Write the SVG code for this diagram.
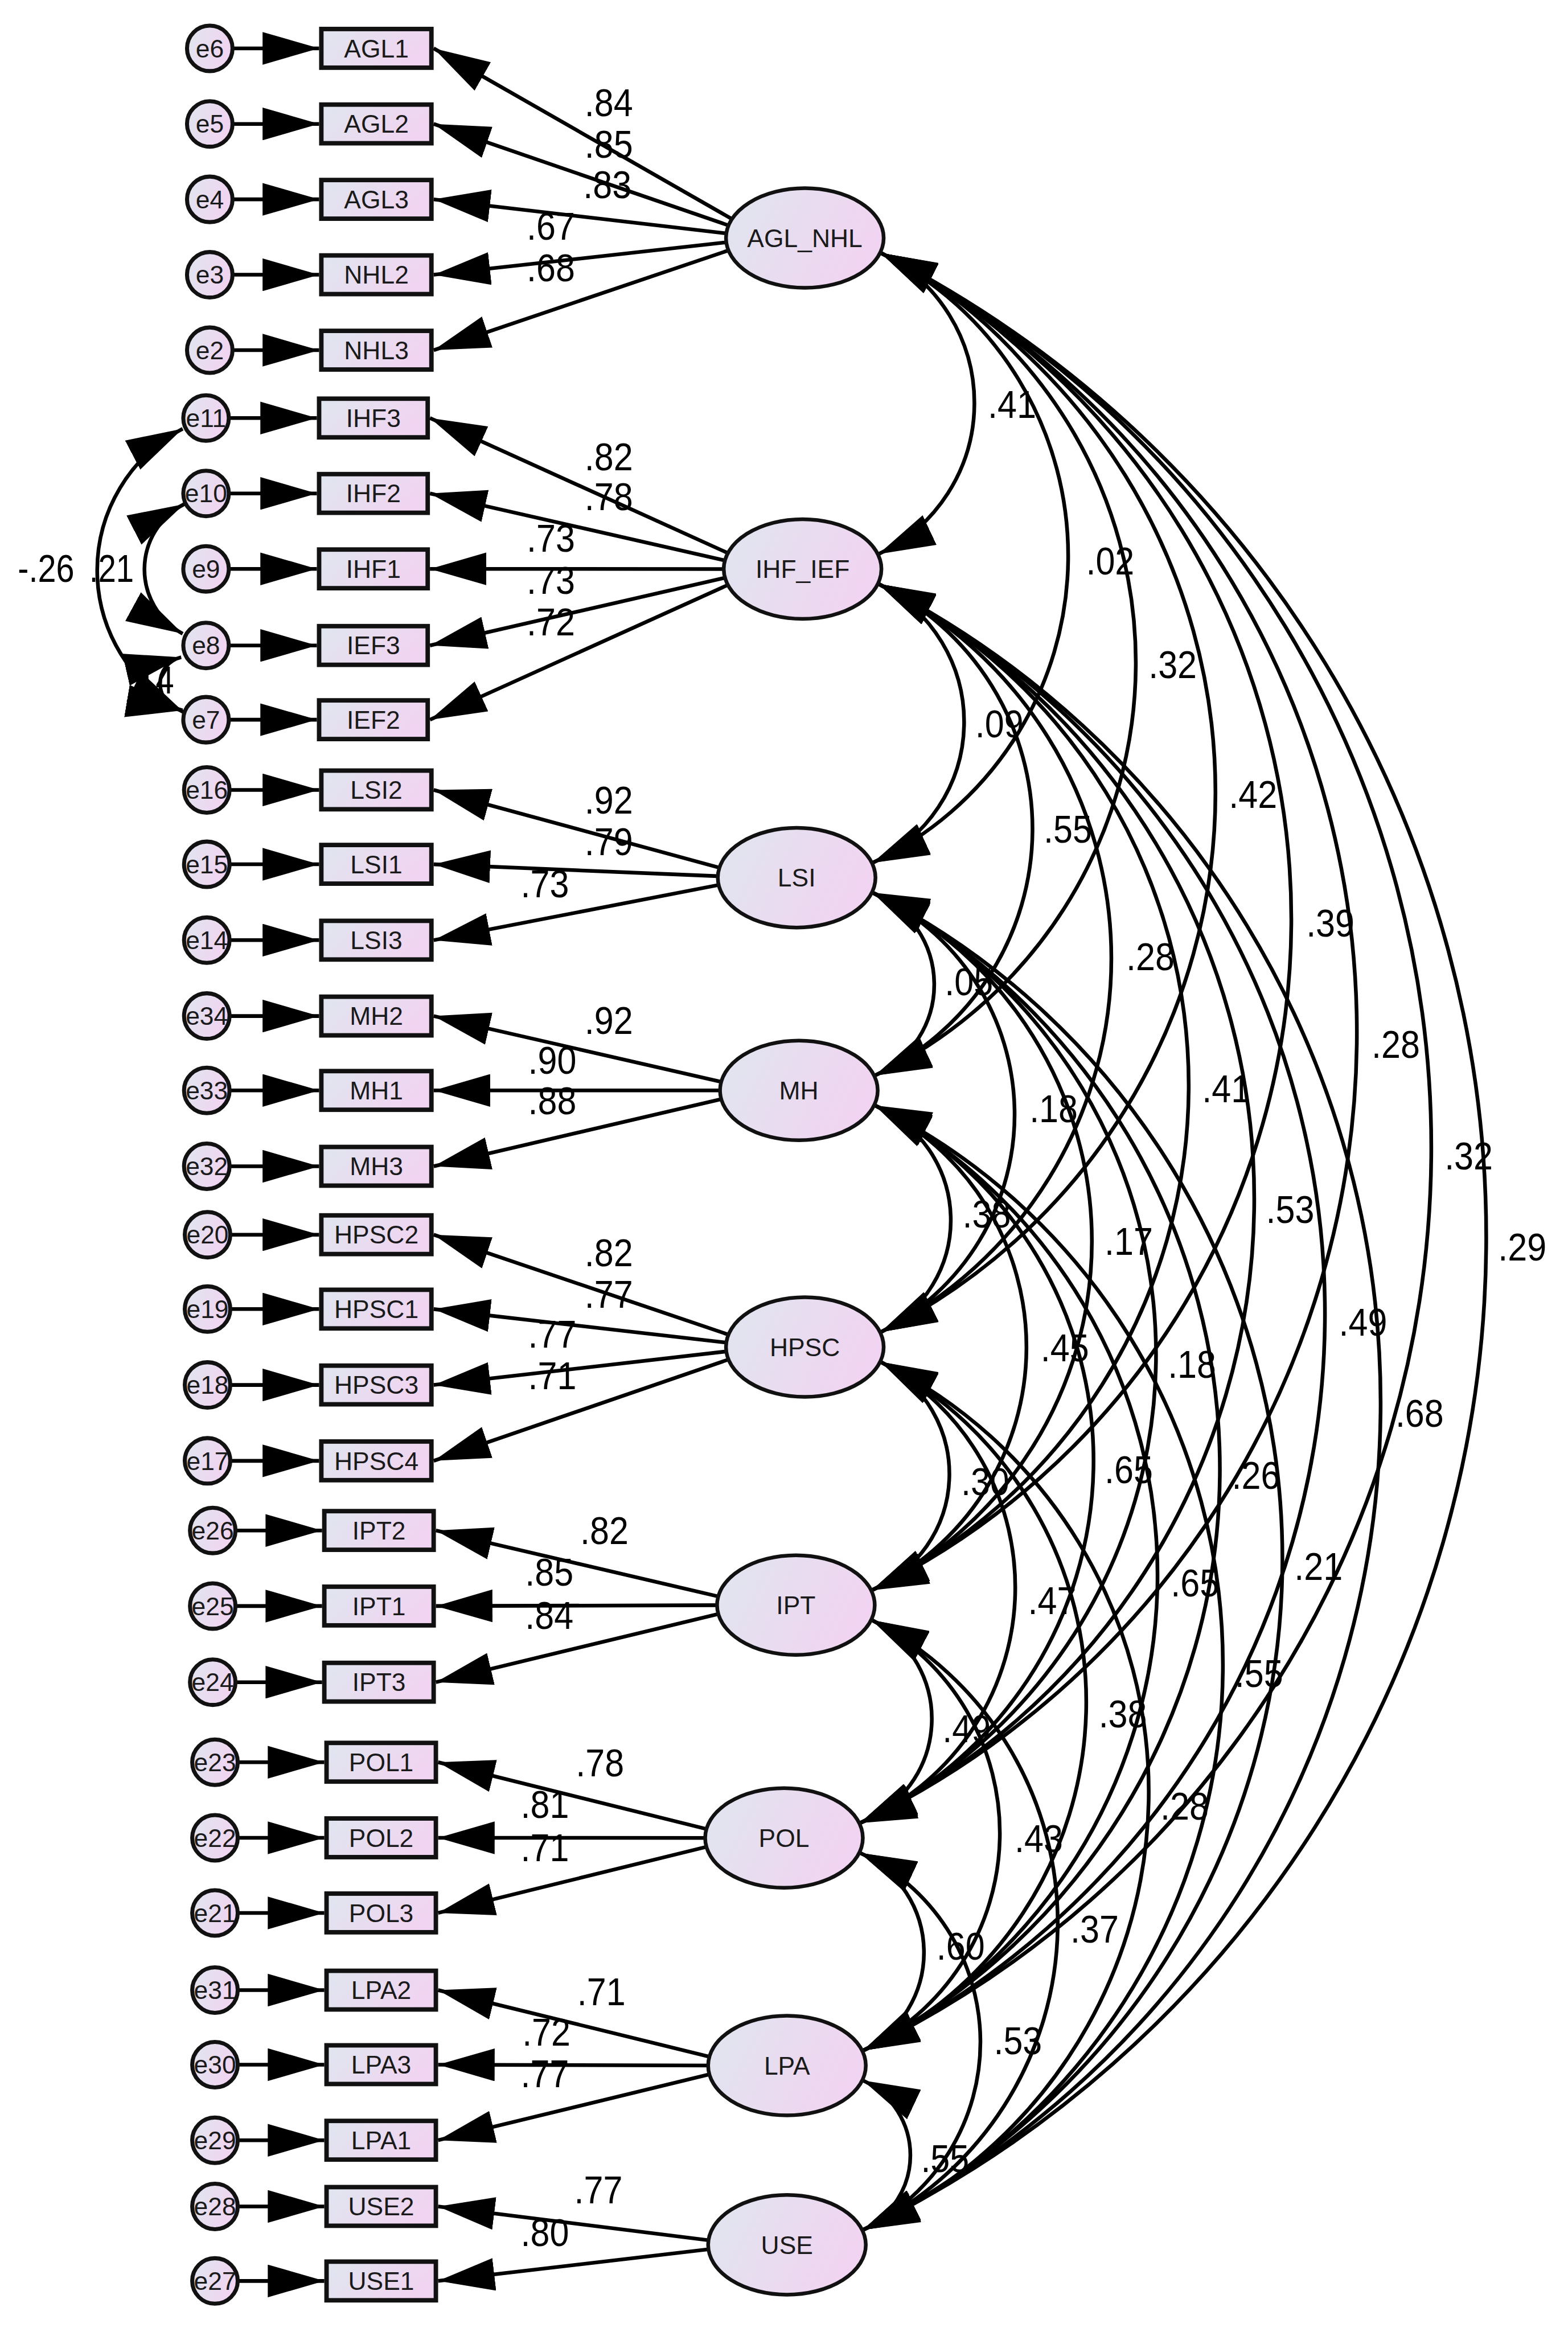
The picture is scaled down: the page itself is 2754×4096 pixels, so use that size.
<svg xmlns="http://www.w3.org/2000/svg" width="2754" height="4096" viewBox="0 0 2754 4096">
<defs>
<linearGradient id="g" x1="0" y1="0" x2="1" y2="0.3"><stop offset="0" stop-color="#dfe6ef"/><stop offset="1" stop-color="#f1d4f1"/></linearGradient>
<marker id="ah" markerUnits="userSpaceOnUse" viewBox="0 0 38 22" markerWidth="38" markerHeight="22" refX="38" refY="11" orient="auto-start-reverse"><path d="M0,0 L38,11 L0,22 Z" fill="#000"/></marker>
<style>
.ln{stroke:#000;stroke-width:2.5;fill:none}
.ar{marker-end:url(#ah)}
.cv{marker-start:url(#ah);marker-end:url(#ah)}
.box{fill:url(#g);stroke:#111;stroke-width:3}
.lat{fill:url(#g);stroke:#111;stroke-width:2.5}
.err{fill:url(#g);stroke:#111;stroke-width:2.7}
.t{font-family:"Liberation Sans",Arial,sans-serif;font-size:17px;fill:#1a1a1a;text-anchor:middle}
.c{font-family:"Liberation Sans",Arial,sans-serif;font-size:26.5px;fill:#000}
</style>
</defs>
<rect width="2754" height="4096" fill="#fff"/>
<g transform="scale(2.6129)">
<text class="c" x="86" y="466" textLength="31" lengthAdjust="spacingAndGlyphs">.14</text>
<g id="connectors">
<line class="ln ar" x1="141" y1="32.5" x2="214.5" y2="32.5"/>
<line class="ln ar" x1="141" y1="83.3" x2="214.5" y2="83.3"/>
<line class="ln ar" x1="141" y1="134" x2="214.5" y2="134"/>
<line class="ln ar" x1="141" y1="184.7" x2="214.5" y2="184.7"/>
<line class="ln ar" x1="141" y1="235.4" x2="214.5" y2="235.4"/>
<line class="ln ar" x1="138.5" y1="281" x2="213" y2="281"/>
<line class="ln ar" x1="138.5" y1="331.7" x2="213" y2="331.7"/>
<line class="ln ar" x1="138.5" y1="382.4" x2="213" y2="382.4"/>
<line class="ln ar" x1="138.5" y1="433.9" x2="213" y2="433.9"/>
<line class="ln ar" x1="138.5" y1="483.8" x2="213" y2="483.8"/>
<line class="ln ar" x1="139" y1="531" x2="214.5" y2="531"/>
<line class="ln ar" x1="139" y1="581" x2="214.5" y2="581"/>
<line class="ln ar" x1="139" y1="632" x2="214.5" y2="632"/>
<line class="ln ar" x1="139" y1="683" x2="214.5" y2="683"/>
<line class="ln ar" x1="139" y1="733" x2="214.5" y2="733"/>
<line class="ln ar" x1="139" y1="784" x2="214.5" y2="784"/>
<line class="ln ar" x1="139.5" y1="830" x2="214.5" y2="830"/>
<line class="ln ar" x1="139.5" y1="880" x2="214.5" y2="880"/>
<line class="ln ar" x1="139.5" y1="931" x2="214.5" y2="931"/>
<line class="ln ar" x1="139.5" y1="982" x2="214.5" y2="982"/>
<line class="ln ar" x1="143" y1="1028.8" x2="216.5" y2="1028.8"/>
<line class="ln ar" x1="143" y1="1079.6" x2="216.5" y2="1079.6"/>
<line class="ln ar" x1="143" y1="1130.8" x2="216.5" y2="1130.8"/>
<line class="ln ar" x1="144.5" y1="1184.6" x2="218" y2="1184.6"/>
<line class="ln ar" x1="144.5" y1="1235.4" x2="218" y2="1235.4"/>
<line class="ln ar" x1="144.5" y1="1285.9" x2="218" y2="1285.9"/>
<line class="ln ar" x1="144.5" y1="1337.8" x2="218" y2="1337.8"/>
<line class="ln ar" x1="144.5" y1="1387.9" x2="218" y2="1387.9"/>
<line class="ln ar" x1="144.5" y1="1438.7" x2="218" y2="1438.7"/>
<line class="ln ar" x1="144.5" y1="1483.2" x2="218" y2="1483.2"/>
<line class="ln ar" x1="144.5" y1="1533.3" x2="218" y2="1533.3"/>
<line class="ln ar" x1="501" y1="152.35" x2="291.5" y2="32.5"/>
<line class="ln ar" x1="501" y1="155.4" x2="291.5" y2="83.3"/>
<line class="ln ar" x1="501" y1="158.4" x2="291.5" y2="134"/>
<line class="ln ar" x1="501" y1="161.5" x2="291.5" y2="184.7"/>
<line class="ln ar" x1="501" y1="164.5" x2="291.5" y2="235.4"/>
<line class="ln ar" x1="499.5" y1="376.4" x2="289" y2="281"/>
<line class="ln ar" x1="499.5" y1="379.5" x2="289" y2="331.7"/>
<line class="ln ar" x1="499.5" y1="382.5" x2="289" y2="382.4"/>
<line class="ln ar" x1="499.5" y1="385.6" x2="289" y2="433.9"/>
<line class="ln ar" x1="499.5" y1="388.6" x2="289" y2="483.8"/>
<line class="ln ar" x1="495.5" y1="586.5" x2="291.5" y2="531"/>
<line class="ln ar" x1="495.5" y1="589.5" x2="291.5" y2="581"/>
<line class="ln ar" x1="495.5" y1="592.5" x2="291.5" y2="632"/>
<line class="ln ar" x1="497" y1="730" x2="291.5" y2="683"/>
<line class="ln ar" x1="497" y1="733" x2="291.5" y2="733"/>
<line class="ln ar" x1="497" y1="736" x2="291.5" y2="784"/>
<line class="ln ar" x1="501" y1="901" x2="291.5" y2="830"/>
<line class="ln ar" x1="501" y1="904" x2="291.5" y2="880"/>
<line class="ln ar" x1="501" y1="907" x2="291.5" y2="931"/>
<line class="ln ar" x1="501" y1="910" x2="291.5" y2="982"/>
<line class="ln ar" x1="495" y1="1076" x2="293" y2="1028.8"/>
<line class="ln ar" x1="495" y1="1079" x2="293" y2="1079.6"/>
<line class="ln ar" x1="495" y1="1082" x2="293" y2="1130.8"/>
<line class="ln ar" x1="487" y1="1232.5" x2="294.5" y2="1184.6"/>
<line class="ln ar" x1="487" y1="1235.5" x2="294.5" y2="1235.4"/>
<line class="ln ar" x1="487" y1="1238.5" x2="294.5" y2="1285.9"/>
<line class="ln ar" x1="489" y1="1385.5" x2="294.5" y2="1337.8"/>
<line class="ln ar" x1="489" y1="1388.5" x2="294.5" y2="1387.9"/>
<line class="ln ar" x1="489" y1="1391.5" x2="294.5" y2="1438.7"/>
<line class="ln ar" x1="489" y1="1507.5" x2="294.5" y2="1483.2"/>
<line class="ln ar" x1="489" y1="1510.5" x2="294.5" y2="1533.3"/>
<path class="ln cv" d="M122.8,288.2 A107.5,107.5 0 0 0 123.8,479"/>
<path class="ln cv" d="M123.8,338.9 A49.3,49.3 0 0 0 122.8,426"/>
<path class="ln cv" d="M121.8,441.8 A18.2,18.2 0 0 0 122.8,477.5"/>
<path class="ln cv" d="M592,170 A112.3,112.3 0 0 1 590.5,372.5"/>
<path class="ln cv" d="M592,170 A227.6,227.6 0 0 1 586.5,580"/>
<path class="ln cv" d="M592,170 A307.1,307.1 0 0 1 588,723"/>
<path class="ln cv" d="M592,170 A404.9,404.9 0 0 1 592,895.5"/>
<path class="ln cv" d="M592,170 A501.6,501.6 0 0 1 586,1069"/>
<path class="ln cv" d="M592,170 A589.4,589.4 0 0 1 578,1225.5"/>
<path class="ln cv" d="M592,170 A673.5,673.5 0 0 1 580,1378.5"/>
<path class="ln cv" d="M592,170 A741.1,741.1 0 0 1 580,1499"/>
<path class="ln cv" d="M590.5,392.5 A103.6,103.6 0 0 1 586.5,580"/>
<path class="ln cv" d="M590.5,392.5 A182.7,182.7 0 0 1 588,723"/>
<path class="ln cv" d="M590.5,392.5 A280.9,280.9 0 0 1 592,895.5"/>
<path class="ln cv" d="M590.5,392.5 A376.8,376.8 0 0 1 586,1069"/>
<path class="ln cv" d="M590.5,392.5 A464.6,464.6 0 0 1 578,1225.5"/>
<path class="ln cv" d="M590.5,392.5 A550.7,550.7 0 0 1 580,1378.5"/>
<path class="ln cv" d="M590.5,392.5 A617.9,617.9 0 0 1 580,1499"/>
<path class="ln cv" d="M586.5,600 A66.8,66.8 0 0 1 588,723"/>
<path class="ln cv" d="M586.5,600 A164.1,164.1 0 0 1 592,895.5"/>
<path class="ln cv" d="M586.5,600 A260,260 0 0 1 586,1069"/>
<path class="ln cv" d="M586.5,600 A348.5,348.5 0 0 1 578,1225.5"/>
<path class="ln cv" d="M586.5,600 A438.4,438.4 0 0 1 580,1378.5"/>
<path class="ln cv" d="M586.5,600 A501.8,501.8 0 0 1 580,1499"/>
<path class="ln cv" d="M588,743 A83.8,83.8 0 0 1 592,895.5"/>
<path class="ln cv" d="M588,743 A180.5,180.5 0 0 1 586,1069"/>
<path class="ln cv" d="M588,743 A267.5,267.5 0 0 1 578,1225.5"/>
<path class="ln cv" d="M588,743 A357.2,357.2 0 0 1 580,1378.5"/>
<path class="ln cv" d="M588,743 A419.2,419.2 0 0 1 580,1499"/>
<path class="ln cv" d="M592,915.5 A84.6,84.6 0 0 1 586,1069"/>
<path class="ln cv" d="M592,915.5 A172.3,172.3 0 0 1 578,1225.5"/>
<path class="ln cv" d="M592,915.5 A258.1,258.1 0 0 1 580,1378.5"/>
<path class="ln cv" d="M592,915.5 A321.8,321.8 0 0 1 580,1499"/>
<path class="ln cv" d="M586,1089 A74.9,74.9 0 0 1 578,1225.5"/>
<path class="ln cv" d="M586,1089 A162.2,162.2 0 0 1 580,1378.5"/>
<path class="ln cv" d="M586,1089 A228.2,228.2 0 0 1 580,1499"/>
<path class="ln cv" d="M578,1245.5 A73.6,73.6 0 0 1 580,1378.5"/>
<path class="ln cv" d="M578,1245.5 A140.4,140.4 0 0 1 580,1499"/>
<path class="ln cv" d="M580,1398.5 A55.5,55.5 0 0 1 580,1499"/>
</g>
<g id="AGL_NHL"><ellipse class="lat" cx="541" cy="160" rx="53" ry="33.5"/><text class="t" x="541" y="166">AGL_NHL</text></g>
<g id="IHF_IEF"><ellipse class="lat" cx="539.5" cy="382.5" rx="53" ry="33.5"/><text class="t" x="539.5" y="388.5">IHF_IEF</text></g>
<g id="LSI"><ellipse class="lat" cx="535.5" cy="590" rx="53" ry="33.5"/><text class="t" x="535.5" y="596">LSI</text></g>
<g id="MH"><ellipse class="lat" cx="537" cy="733" rx="53" ry="33.5"/><text class="t" x="537" y="739">MH</text></g>
<g id="HPSC"><ellipse class="lat" cx="541" cy="905.5" rx="53" ry="33.5"/><text class="t" x="541" y="911.5">HPSC</text></g>
<g id="IPT"><ellipse class="lat" cx="535" cy="1079" rx="53" ry="33.5"/><text class="t" x="535" y="1085">IPT</text></g>
<g id="POL"><ellipse class="lat" cx="527" cy="1235.5" rx="53" ry="33.5"/><text class="t" x="527" y="1241.5">POL</text></g>
<g id="LPA"><ellipse class="lat" cx="529" cy="1388.5" rx="53" ry="33.5"/><text class="t" x="529" y="1394.5">LPA</text></g>
<g id="USE"><ellipse class="lat" cx="529" cy="1509" rx="53" ry="33.5"/><text class="t" x="529" y="1515">USE</text></g>
<g id="AGL1"><rect class="box" x="216" y="19.5" width="74" height="26"/><text class="t" x="253" y="38.5">AGL1</text></g>
<g id="AGL2"><rect class="box" x="216" y="70.3" width="74" height="26"/><text class="t" x="253" y="89.3">AGL2</text></g>
<g id="AGL3"><rect class="box" x="216" y="121" width="74" height="26"/><text class="t" x="253" y="140">AGL3</text></g>
<g id="NHL2"><rect class="box" x="216" y="171.7" width="74" height="26"/><text class="t" x="253" y="190.7">NHL2</text></g>
<g id="NHL3"><rect class="box" x="216" y="222.4" width="74" height="26"/><text class="t" x="253" y="241.4">NHL3</text></g>
<g id="IHF3"><rect class="box" x="214.5" y="268" width="73" height="26"/><text class="t" x="251" y="287">IHF3</text></g>
<g id="IHF2"><rect class="box" x="214.5" y="318.7" width="73" height="26"/><text class="t" x="251" y="337.7">IHF2</text></g>
<g id="IHF1"><rect class="box" x="214.5" y="369.4" width="73" height="26"/><text class="t" x="251" y="388.4">IHF1</text></g>
<g id="IEF3"><rect class="box" x="214.5" y="420.9" width="73" height="26"/><text class="t" x="251" y="439.9">IEF3</text></g>
<g id="IEF2"><rect class="box" x="214.5" y="470.8" width="73" height="26"/><text class="t" x="251" y="489.8">IEF2</text></g>
<g id="LSI2"><rect class="box" x="216" y="518" width="74" height="26"/><text class="t" x="253" y="537">LSI2</text></g>
<g id="LSI1"><rect class="box" x="216" y="568" width="74" height="26"/><text class="t" x="253" y="587">LSI1</text></g>
<g id="LSI3"><rect class="box" x="216" y="619" width="74" height="26"/><text class="t" x="253" y="638">LSI3</text></g>
<g id="MH2"><rect class="box" x="216" y="670" width="74" height="26"/><text class="t" x="253" y="689">MH2</text></g>
<g id="MH1"><rect class="box" x="216" y="720" width="74" height="26"/><text class="t" x="253" y="739">MH1</text></g>
<g id="MH3"><rect class="box" x="216" y="771" width="74" height="26"/><text class="t" x="253" y="790">MH3</text></g>
<g id="HPSC2"><rect class="box" x="216" y="817" width="74" height="26"/><text class="t" x="253" y="836">HPSC2</text></g>
<g id="HPSC1"><rect class="box" x="216" y="867" width="74" height="26"/><text class="t" x="253" y="886">HPSC1</text></g>
<g id="HPSC3"><rect class="box" x="216" y="918" width="74" height="26"/><text class="t" x="253" y="937">HPSC3</text></g>
<g id="HPSC4"><rect class="box" x="216" y="969" width="74" height="26"/><text class="t" x="253" y="988">HPSC4</text></g>
<g id="IPT2"><rect class="box" x="218" y="1015.8" width="73.5" height="26"/><text class="t" x="254.75" y="1034.8">IPT2</text></g>
<g id="IPT1"><rect class="box" x="218" y="1066.6" width="73.5" height="26"/><text class="t" x="254.75" y="1085.6">IPT1</text></g>
<g id="IPT3"><rect class="box" x="218" y="1117.8" width="73.5" height="26"/><text class="t" x="254.75" y="1136.8">IPT3</text></g>
<g id="POL1"><rect class="box" x="219.5" y="1171.6" width="73.5" height="26"/><text class="t" x="256.25" y="1190.6">POL1</text></g>
<g id="POL2"><rect class="box" x="219.5" y="1222.4" width="73.5" height="26"/><text class="t" x="256.25" y="1241.4">POL2</text></g>
<g id="POL3"><rect class="box" x="219.5" y="1272.9" width="73.5" height="26"/><text class="t" x="256.25" y="1291.9">POL3</text></g>
<g id="LPA2"><rect class="box" x="219.5" y="1324.8" width="73.5" height="26"/><text class="t" x="256.25" y="1343.8">LPA2</text></g>
<g id="LPA3"><rect class="box" x="219.5" y="1374.9" width="73.5" height="26"/><text class="t" x="256.25" y="1393.9">LPA3</text></g>
<g id="LPA1"><rect class="box" x="219.5" y="1425.7" width="73.5" height="26"/><text class="t" x="256.25" y="1444.7">LPA1</text></g>
<g id="USE2"><rect class="box" x="219.5" y="1470.2" width="73.5" height="26"/><text class="t" x="256.25" y="1489.2">USE2</text></g>
<g id="USE1"><rect class="box" x="219.5" y="1520.3" width="73.5" height="26"/><text class="t" x="256.25" y="1539.3">USE1</text></g>
<g id="e6"><circle class="err" cx="141" cy="32.5" r="15.3"/><text class="t" x="141" y="38.5">e6</text></g>
<g id="e5"><circle class="err" cx="141" cy="83.3" r="15.3"/><text class="t" x="141" y="89.3">e5</text></g>
<g id="e4"><circle class="err" cx="141" cy="134" r="15.3"/><text class="t" x="141" y="140">e4</text></g>
<g id="e3"><circle class="err" cx="141" cy="184.7" r="15.3"/><text class="t" x="141" y="190.7">e3</text></g>
<g id="e2"><circle class="err" cx="141" cy="235.4" r="15.3"/><text class="t" x="141" y="241.4">e2</text></g>
<g id="e11"><circle class="err" cx="138.5" cy="281" r="15.3"/><text class="t" x="138.5" y="287">e11</text></g>
<g id="e10"><circle class="err" cx="138.5" cy="331.7" r="15.3"/><text class="t" x="138.5" y="337.7">e10</text></g>
<g id="e9"><circle class="err" cx="138.5" cy="382.4" r="15.3"/><text class="t" x="138.5" y="388.4">e9</text></g>
<g id="e8"><circle class="err" cx="138.5" cy="433.9" r="15.3"/><text class="t" x="138.5" y="439.9">e8</text></g>
<g id="e7"><circle class="err" cx="138.5" cy="483.8" r="15.3"/><text class="t" x="138.5" y="489.8">e7</text></g>
<g id="e16"><circle class="err" cx="139" cy="531" r="15.3"/><text class="t" x="139" y="537">e16</text></g>
<g id="e15"><circle class="err" cx="139" cy="581" r="15.3"/><text class="t" x="139" y="587">e15</text></g>
<g id="e14"><circle class="err" cx="139" cy="632" r="15.3"/><text class="t" x="139" y="638">e14</text></g>
<g id="e34"><circle class="err" cx="139" cy="683" r="15.3"/><text class="t" x="139" y="689">e34</text></g>
<g id="e33"><circle class="err" cx="139" cy="733" r="15.3"/><text class="t" x="139" y="739">e33</text></g>
<g id="e32"><circle class="err" cx="139" cy="784" r="15.3"/><text class="t" x="139" y="790">e32</text></g>
<g id="e20"><circle class="err" cx="139.5" cy="830" r="15.3"/><text class="t" x="139.5" y="836">e20</text></g>
<g id="e19"><circle class="err" cx="139.5" cy="880" r="15.3"/><text class="t" x="139.5" y="886">e19</text></g>
<g id="e18"><circle class="err" cx="139.5" cy="931" r="15.3"/><text class="t" x="139.5" y="937">e18</text></g>
<g id="e17"><circle class="err" cx="139.5" cy="982" r="15.3"/><text class="t" x="139.5" y="988">e17</text></g>
<g id="e26"><circle class="err" cx="143" cy="1028.8" r="15.3"/><text class="t" x="143" y="1034.8">e26</text></g>
<g id="e25"><circle class="err" cx="143" cy="1079.6" r="15.3"/><text class="t" x="143" y="1085.6">e25</text></g>
<g id="e24"><circle class="err" cx="143" cy="1130.8" r="15.3"/><text class="t" x="143" y="1136.8">e24</text></g>
<g id="e23"><circle class="err" cx="144.5" cy="1184.6" r="15.3"/><text class="t" x="144.5" y="1190.6">e23</text></g>
<g id="e22"><circle class="err" cx="144.5" cy="1235.4" r="15.3"/><text class="t" x="144.5" y="1241.4">e22</text></g>
<g id="e21"><circle class="err" cx="144.5" cy="1285.9" r="15.3"/><text class="t" x="144.5" y="1291.9">e21</text></g>
<g id="e31"><circle class="err" cx="144.5" cy="1337.8" r="15.3"/><text class="t" x="144.5" y="1343.8">e31</text></g>
<g id="e30"><circle class="err" cx="144.5" cy="1387.9" r="15.3"/><text class="t" x="144.5" y="1393.9">e30</text></g>
<g id="e29"><circle class="err" cx="144.5" cy="1438.7" r="15.3"/><text class="t" x="144.5" y="1444.7">e29</text></g>
<g id="e28"><circle class="err" cx="144.5" cy="1483.2" r="15.3"/><text class="t" x="144.5" y="1489.2">e28</text></g>
<g id="e27"><circle class="err" cx="144.5" cy="1533.3" r="15.3"/><text class="t" x="144.5" y="1539.3">e27</text></g>
<g id="labels">
<text class="c" textLength="32.5" lengthAdjust="spacingAndGlyphs" x="393" y="78">.84</text>
<text class="c" textLength="32.5" lengthAdjust="spacingAndGlyphs" x="393" y="106">.85</text>
<text class="c" textLength="32.5" lengthAdjust="spacingAndGlyphs" x="392" y="133">.83</text>
<text class="c" textLength="32.5" lengthAdjust="spacingAndGlyphs" x="354" y="161">.67</text>
<text class="c" textLength="32.5" lengthAdjust="spacingAndGlyphs" x="354" y="189">.68</text>
<text class="c" textLength="32.5" lengthAdjust="spacingAndGlyphs" x="393" y="316">.82</text>
<text class="c" textLength="32.5" lengthAdjust="spacingAndGlyphs" x="393" y="343">.78</text>
<text class="c" textLength="32.5" lengthAdjust="spacingAndGlyphs" x="354" y="371">.73</text>
<text class="c" textLength="32.5" lengthAdjust="spacingAndGlyphs" x="354" y="399">.73</text>
<text class="c" textLength="32.5" lengthAdjust="spacingAndGlyphs" x="354" y="427">.72</text>
<text class="c" textLength="32.5" lengthAdjust="spacingAndGlyphs" x="393" y="547">.92</text>
<text class="c" textLength="32.5" lengthAdjust="spacingAndGlyphs" x="393" y="575">.79</text>
<text class="c" textLength="32.5" lengthAdjust="spacingAndGlyphs" x="350" y="603">.73</text>
<text class="c" textLength="32.5" lengthAdjust="spacingAndGlyphs" x="393" y="695">.92</text>
<text class="c" textLength="32.5" lengthAdjust="spacingAndGlyphs" x="355" y="722">.90</text>
<text class="c" textLength="32.5" lengthAdjust="spacingAndGlyphs" x="355" y="749">.88</text>
<text class="c" textLength="32.5" lengthAdjust="spacingAndGlyphs" x="393" y="851">.82</text>
<text class="c" textLength="32.5" lengthAdjust="spacingAndGlyphs" x="393" y="879">.77</text>
<text class="c" textLength="32.5" lengthAdjust="spacingAndGlyphs" x="355" y="906">.77</text>
<text class="c" textLength="32.5" lengthAdjust="spacingAndGlyphs" x="355" y="934">.71</text>
<text class="c" textLength="32.5" lengthAdjust="spacingAndGlyphs" x="390" y="1038">.82</text>
<text class="c" textLength="32.5" lengthAdjust="spacingAndGlyphs" x="353" y="1066">.85</text>
<text class="c" textLength="32.5" lengthAdjust="spacingAndGlyphs" x="353" y="1095">.84</text>
<text class="c" textLength="32.5" lengthAdjust="spacingAndGlyphs" x="387" y="1194">.78</text>
<text class="c" textLength="32.5" lengthAdjust="spacingAndGlyphs" x="350" y="1222">.81</text>
<text class="c" textLength="32.5" lengthAdjust="spacingAndGlyphs" x="350" y="1251">.71</text>
<text class="c" textLength="32.5" lengthAdjust="spacingAndGlyphs" x="388" y="1348">.71</text>
<text class="c" textLength="32.5" lengthAdjust="spacingAndGlyphs" x="351" y="1375">.72</text>
<text class="c" textLength="32.5" lengthAdjust="spacingAndGlyphs" x="350" y="1403">.77</text>
<text class="c" textLength="32.5" lengthAdjust="spacingAndGlyphs" x="386" y="1481">.77</text>
<text class="c" textLength="32.5" lengthAdjust="spacingAndGlyphs" x="350" y="1510">.80</text>
<text class="c" textLength="38" lengthAdjust="spacingAndGlyphs" x="12" y="391">-.26</text>
<text class="c" textLength="30" lengthAdjust="spacingAndGlyphs" x="60" y="391">.21</text>
<text class="c" textLength="32.5" lengthAdjust="spacingAndGlyphs" x="664" y="281">.41</text>
<text class="c" textLength="32.5" lengthAdjust="spacingAndGlyphs" x="730" y="386">.02</text>
<text class="c" textLength="32.5" lengthAdjust="spacingAndGlyphs" x="772" y="456">.32</text>
<text class="c" textLength="32.5" lengthAdjust="spacingAndGlyphs" x="826" y="543">.42</text>
<text class="c" textLength="32.5" lengthAdjust="spacingAndGlyphs" x="878" y="629.5">.39</text>
<text class="c" textLength="32.5" lengthAdjust="spacingAndGlyphs" x="922" y="711">.28</text>
<text class="c" textLength="32.5" lengthAdjust="spacingAndGlyphs" x="971" y="786">.32</text>
<text class="c" textLength="32.5" lengthAdjust="spacingAndGlyphs" x="1007" y="847.5">.29</text>
<text class="c" textLength="32.5" lengthAdjust="spacingAndGlyphs" x="655.5" y="495.5">.09</text>
<text class="c" textLength="32.5" lengthAdjust="spacingAndGlyphs" x="701.5" y="566.5">.55</text>
<text class="c" textLength="32.5" lengthAdjust="spacingAndGlyphs" x="757" y="652">.28</text>
<text class="c" textLength="32.5" lengthAdjust="spacingAndGlyphs" x="808" y="741">.41</text>
<text class="c" textLength="32.5" lengthAdjust="spacingAndGlyphs" x="851" y="822">.53</text>
<text class="c" textLength="32.5" lengthAdjust="spacingAndGlyphs" x="900" y="898">.49</text>
<text class="c" textLength="32.5" lengthAdjust="spacingAndGlyphs" x="938" y="959">.68</text>
<text class="c" textLength="32.5" lengthAdjust="spacingAndGlyphs" x="635" y="669">.05</text>
<text class="c" textLength="32.5" lengthAdjust="spacingAndGlyphs" x="692" y="754.5">.18</text>
<text class="c" textLength="32.5" lengthAdjust="spacingAndGlyphs" x="742.5" y="843.5">.17</text>
<text class="c" textLength="32.5" lengthAdjust="spacingAndGlyphs" x="785" y="926">.18</text>
<text class="c" textLength="32.5" lengthAdjust="spacingAndGlyphs" x="828" y="1001">.26</text>
<text class="c" textLength="32.5" lengthAdjust="spacingAndGlyphs" x="870" y="1062">.21</text>
<text class="c" textLength="32.5" lengthAdjust="spacingAndGlyphs" x="647" y="825">.38</text>
<text class="c" textLength="32.5" lengthAdjust="spacingAndGlyphs" x="699.5" y="915">.45</text>
<text class="c" textLength="32.5" lengthAdjust="spacingAndGlyphs" x="742.5" y="997">.65</text>
<text class="c" textLength="32.5" lengthAdjust="spacingAndGlyphs" x="787" y="1073">.65</text>
<text class="c" textLength="32.5" lengthAdjust="spacingAndGlyphs" x="830" y="1134">.55</text>
<text class="c" textLength="32.5" lengthAdjust="spacingAndGlyphs" x="646" y="1005">.30</text>
<text class="c" textLength="32.5" lengthAdjust="spacingAndGlyphs" x="691" y="1085">.47</text>
<text class="c" textLength="32.5" lengthAdjust="spacingAndGlyphs" x="738.5" y="1161">.38</text>
<text class="c" textLength="32.5" lengthAdjust="spacingAndGlyphs" x="780" y="1223">.28</text>
<text class="c" textLength="32.5" lengthAdjust="spacingAndGlyphs" x="633.5" y="1171">.49</text>
<text class="c" textLength="32.5" lengthAdjust="spacingAndGlyphs" x="682" y="1245">.43</text>
<text class="c" textLength="32.5" lengthAdjust="spacingAndGlyphs" x="719.5" y="1306">.37</text>
<text class="c" textLength="32.5" lengthAdjust="spacingAndGlyphs" x="629.5" y="1317.5">.60</text>
<text class="c" textLength="32.5" lengthAdjust="spacingAndGlyphs" x="668" y="1381">.53</text>
<text class="c" textLength="32.5" lengthAdjust="spacingAndGlyphs" x="619" y="1460">.55</text>
</g>
</g>
</svg>
